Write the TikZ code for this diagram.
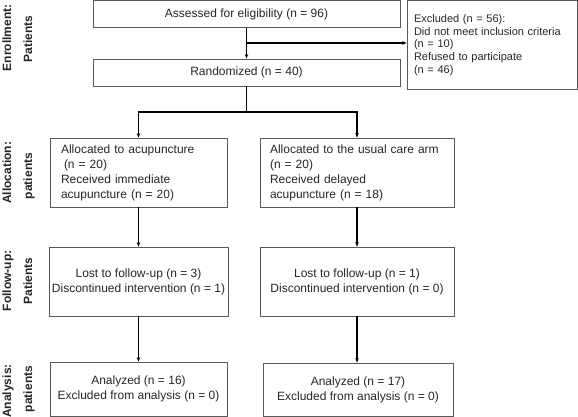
\documentclass[tikz,border=0pt]{standalone}
\usepackage{fontspec}
\setmainfont{Liberation Sans}
\usetikzlibrary{arrows.meta}
\begin{document}
\begin{tikzpicture}[x=1pt,y=-1pt,
 box/.style={draw=black!65, line width=0.8pt, rectangle, inner sep=0pt, font=\fontsize{12}{15}\selectfont, text=black!85},
 arr/.style={line width=1.4pt, -{Stealth[length=4.5pt,width=3.5pt]}},
 ln/.style={line width=1.4pt},
 side/.style={rotate=90, anchor=base, font=\fontsize{12}{14}\selectfont\bfseries, text=black!85}]
\useasboundingbox (0,0) rectangle (578,417);

\node[box, minimum width=307pt, minimum height=27pt] (assessed) at (246.5,14) {Assessed for eligibility (n = 96)};
\node[box, minimum width=307pt, minimum height=27pt] (rand) at (246.5,72.5) {Randomized (n = 40)};
\node[box, minimum width=170pt, minimum height=89pt, text width=156pt, align=left, font=\fontsize{11}{12.7}\selectfont] (excl) at (492,45) {Excluded (n = 56):\\Did not meet inclusion criteria\\(n = 10)\\Refused to participate\\(n = 46)};

\node[box, minimum width=177pt, minimum height=69pt, text width=155pt, align=left] (allocL) at (138.5,172.5) {Allocated to acupuncture\\\hspace*{3pt}(n = 20)\\Received immediate\\acupuncture (n = 20)};
\node[box, minimum width=194pt, minimum height=69pt, text width=174pt, align=left] (allocR) at (357,172.5) {Allocated to the usual care arm\\(n = 20)\\Received delayed\\acupuncture (n = 18)};

\node[box, minimum width=179pt, minimum height=69pt, align=center] (fuL) at (138.5,281.5) {Lost to follow-up (n = 3)\\Discontinued intervention (n = 1)};
\node[box, minimum width=194pt, minimum height=69pt, align=center] (fuR) at (357,281.5) {Lost to follow-up (n = 1)\\Discontinued intervention (n = 0)};

\node[box, minimum width=177pt, minimum height=54pt, align=center] (anL) at (138.5,389) {Analyzed (n = 16)\\Excluded from analysis (n = 0)};
\node[box, minimum width=190pt, minimum height=53pt, align=center] (anR) at (358,389.5) {Analyzed (n = 17)\\Excluded from analysis (n = 0)};

\node[side] (s1a) at (11,38) {Enrollment:};
\node[side] (s1b) at (32,39) {Patients};
\node[side] (s2a) at (11,173) {Allocation:};
\node[side] (s2b) at (32,176) {patients};
\node[side] (s3a) at (11,281) {Follow-up:};
\node[side] (s3b) at (32,281) {Patients};
\node[side] (s4a) at (11,391) {Analysis:};
\node[side] (s4b) at (32,389) {patients};

\coordinate (br) at (246.5,43);
\coordinate (split) at (246.5,112);
\draw[arr] (assessed) -- (rand);
\draw[arr] (br) -- (br -| excl.west);
\draw[ln] (rand.south) -- (split);
\draw[arr] (split) -| (allocL);
\draw[arr] (split) -| (allocR);
\draw[arr] (allocL) -- (fuL);
\draw[arr] (allocR) -- (fuR);
\draw[arr] (fuL) -- (anL);
\draw[arr] (fuR.south) -- (fuR.south |- anR.north);
\end{tikzpicture}
\end{document}
